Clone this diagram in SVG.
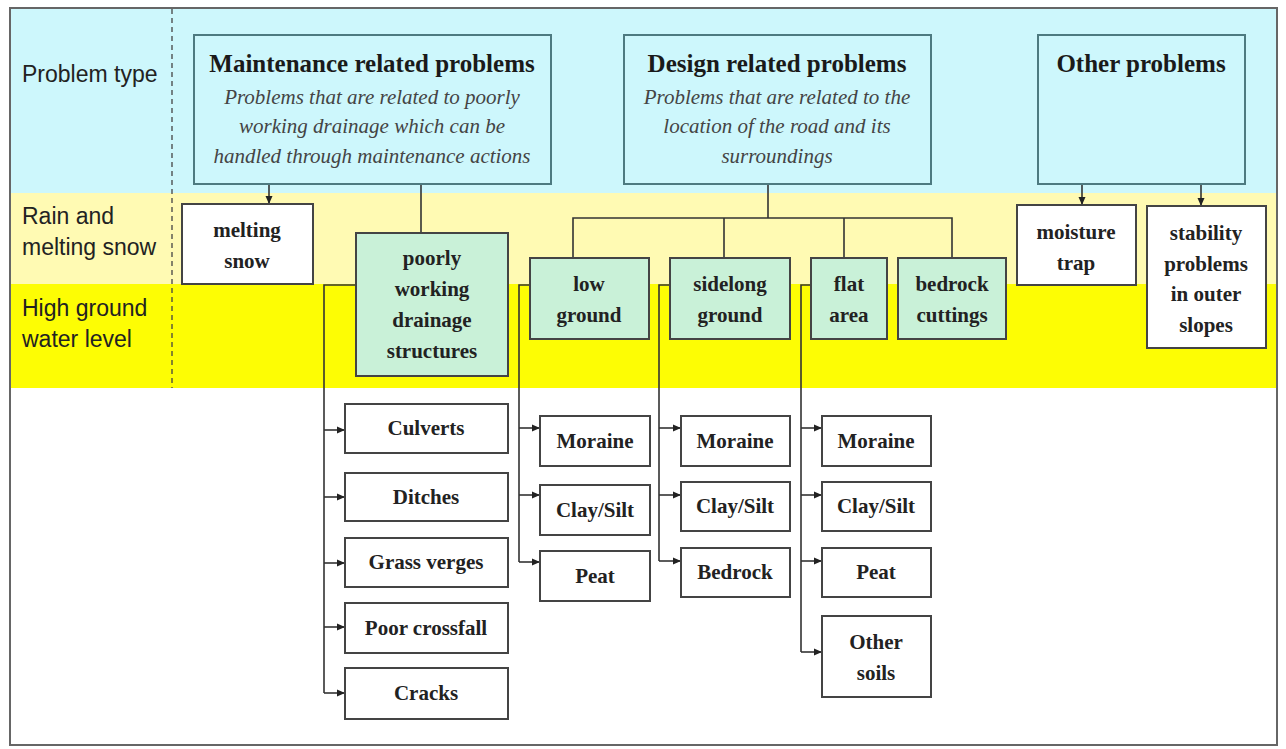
<svg xmlns="http://www.w3.org/2000/svg" width="1286" height="749" viewBox="0 0 1286 749">
<defs>
<marker id="ah" markerWidth="9" markerHeight="9" refX="8" refY="4.5" orient="auto" markerUnits="userSpaceOnUse">
<path d="M0,1 L8,4.5 L0,8 Z" fill="#222"/>
</marker>
<style>
.lbl{font-family:"Liberation Sans",Arial,sans-serif;font-size:23px;fill:#222}
.t{font-family:"Liberation Serif","Times New Roman",serif;font-weight:bold;font-size:21px;fill:#222;text-anchor:middle}
.h{font-family:"Liberation Serif","Times New Roman",serif;font-weight:bold;font-size:25px;fill:#1a1a1a;text-anchor:middle}
.i{font-family:"Liberation Serif","Times New Roman",serif;font-style:italic;font-size:21px;fill:#444;text-anchor:middle}
.pt{fill:#cdf7fc;stroke:#4d7a80;stroke-width:2}
.g{fill:#c9f1d8;stroke:#444;stroke-width:2}
.w{fill:#fff;stroke:#444;stroke-width:2}
.c{fill:none;stroke:#333;stroke-width:1.6}
</style>
</defs>
<rect x="0" y="0" width="1286" height="749" fill="#fff"/>
<g id="bands">
<rect x="10" y="9" width="1267" height="184" fill="#cdf7fc"/>
<rect x="10" y="193" width="1267" height="91" fill="#fffab3"/>
<rect x="10" y="284" width="1267" height="104" fill="#fdfd04"/>
<rect x="10" y="8" width="1267" height="737" fill="none" stroke="#666" stroke-width="2"/>
<line x1="172" y1="9" x2="172" y2="388" stroke="#444" stroke-width="1.3" stroke-dasharray="5,4"/>
</g>
<g id="row-labels">
<text class="lbl" x="22" y="82">Problem type</text>
<text class="lbl" x="22" y="224">Rain and</text>
<text class="lbl" x="22" y="255">melting snow</text>
<text class="lbl" x="22" y="316">High ground</text>
<text class="lbl" x="22" y="347">water level</text>
</g>
<g id="connectors">
<line class="c" x1="269" y1="184" x2="269" y2="204" marker-end="url(#ah)"/>
<line class="c" x1="421" y1="184" x2="421" y2="233"/>
<line class="c" x1="1082" y1="184" x2="1082" y2="205" marker-end="url(#ah)"/>
<line class="c" x1="1201" y1="184" x2="1201" y2="206" marker-end="url(#ah)"/>
<path class="c" d="M768,184 V218 M573,258 V218 H952 V258 M724,218 V258 M844,218 V258"/>
<path class="c" d="M356,285 H324 V693"/>
<line class="c" x1="324" y1="430" x2="345" y2="430" marker-end="url(#ah)"/>
<line class="c" x1="324" y1="497" x2="345" y2="497" marker-end="url(#ah)"/>
<line class="c" x1="324" y1="563" x2="345" y2="563" marker-end="url(#ah)"/>
<line class="c" x1="324" y1="627" x2="345" y2="627" marker-end="url(#ah)"/>
<line class="c" x1="324" y1="693" x2="345" y2="693" marker-end="url(#ah)"/>
<path class="c" d="M530,285 H519 V562"/>
<line class="c" x1="519" y1="428" x2="540" y2="428" marker-end="url(#ah)"/>
<line class="c" x1="519" y1="495" x2="540" y2="495" marker-end="url(#ah)"/>
<line class="c" x1="519" y1="562" x2="540" y2="562" marker-end="url(#ah)"/>
<path class="c" d="M670,285 H659 V561"/>
<line class="c" x1="659" y1="428" x2="681" y2="428" marker-end="url(#ah)"/>
<line class="c" x1="659" y1="495" x2="681" y2="495" marker-end="url(#ah)"/>
<line class="c" x1="659" y1="561" x2="681" y2="561" marker-end="url(#ah)"/>
<path class="c" d="M811,285 H801 V652"/>
<line class="c" x1="801" y1="428" x2="822" y2="428" marker-end="url(#ah)"/>
<line class="c" x1="801" y1="495" x2="822" y2="495" marker-end="url(#ah)"/>
<line class="c" x1="801" y1="561" x2="822" y2="561" marker-end="url(#ah)"/>
<line class="c" x1="801" y1="652" x2="822" y2="652" marker-end="url(#ah)"/>
</g>
<g id="maintenance">
<rect class="pt" x="194" y="35" width="357" height="149"/>
<text class="h" x="372" y="72">Maintenance related problems</text>
<text class="i" x="372" y="104">Problems that are related to poorly</text>
<text class="i" x="372" y="133">working drainage which can be</text>
<text class="i" x="372" y="163">handled through maintenance actions</text>
</g>
<g id="design">
<rect class="pt" x="624" y="35" width="307" height="149"/>
<text class="h" x="777" y="72">Design related problems</text>
<text class="i" x="777" y="104">Problems that are related to the</text>
<text class="i" x="777" y="133">location of the road and its</text>
<text class="i" x="777" y="163">surroundings</text>
</g>
<g id="other">
<rect class="pt" x="1038" y="35" width="207" height="149"/>
<text class="h" x="1141" y="72">Other problems</text>
</g>
<g id="melting-snow">
<rect class="w" x="182" y="204" width="131" height="80"/>
<text class="t" x="247" y="237">melting</text>
<text class="t" x="247" y="268">snow</text>
</g>
<g id="moisture-trap">
<rect class="w" x="1017" y="205" width="119" height="80"/>
<text class="t" x="1076" y="239">moisture</text>
<text class="t" x="1076" y="270">trap</text>
</g>
<g id="stability">
<rect class="w" x="1147" y="206" width="119" height="142"/>
<text class="t" x="1206" y="240">stability</text>
<text class="t" x="1206" y="271">problems</text>
<text class="t" x="1206" y="301">in outer</text>
<text class="t" x="1206" y="332">slopes</text>
</g>
<g id="poorly-working">
<rect class="g" x="356" y="233" width="152" height="143"/>
<text class="t" x="432" y="265">poorly</text>
<text class="t" x="432" y="296">working</text>
<text class="t" x="432" y="327">drainage</text>
<text class="t" x="432" y="358">structures</text>
</g>
<g id="low-ground">
<rect class="g" x="530" y="258" width="119" height="81"/>
<text class="t" x="589" y="291">low</text>
<text class="t" x="589" y="322">ground</text>
</g>
<g id="sidelong-ground">
<rect class="g" x="670" y="258" width="120" height="81"/>
<text class="t" x="730" y="291">sidelong</text>
<text class="t" x="730" y="322">ground</text>
</g>
<g id="flat-area">
<rect class="g" x="811" y="258" width="76" height="81"/>
<text class="t" x="849" y="291">flat</text>
<text class="t" x="849" y="322">area</text>
</g>
<g id="bedrock-cuttings">
<rect class="g" x="898" y="258" width="108" height="81"/>
<text class="t" x="952" y="291">bedrock</text>
<text class="t" x="952" y="322">cuttings</text>
</g>
<g id="culverts"><rect class="w" x="345" y="404" width="163" height="49"/><text class="t" x="426" y="435">Culverts</text></g>
<g id="ditches"><rect class="w" x="345" y="473" width="163" height="48"/><text class="t" x="426" y="504">Ditches</text></g>
<g id="grass-verges"><rect class="w" x="345" y="538" width="163" height="49"/><text class="t" x="426" y="569">Grass verges</text></g>
<g id="poor-crossfall"><rect class="w" x="345" y="603" width="163" height="50"/><text class="t" x="426" y="635">Poor crossfall</text></g>
<g id="cracks"><rect class="w" x="345" y="668" width="163" height="51"/><text class="t" x="426" y="700">Cracks</text></g>
<g id="low-moraine"><rect class="w" x="540" y="416" width="110" height="50"/><text class="t" x="595" y="448">Moraine</text></g>
<g id="low-clay"><rect class="w" x="540" y="485" width="110" height="50"/><text class="t" x="595" y="517">Clay/Silt</text></g>
<g id="low-peat"><rect class="w" x="540" y="551" width="110" height="50"/><text class="t" x="595" y="583">Peat</text></g>
<g id="side-moraine"><rect class="w" x="681" y="416" width="109" height="50"/><text class="t" x="735" y="448">Moraine</text></g>
<g id="side-clay"><rect class="w" x="681" y="482" width="109" height="49"/><text class="t" x="735" y="513">Clay/Silt</text></g>
<g id="side-bedrock"><rect class="w" x="681" y="548" width="109" height="49"/><text class="t" x="735" y="579">Bedrock</text></g>
<g id="flat-moraine"><rect class="w" x="822" y="416" width="109" height="50"/><text class="t" x="876" y="448">Moraine</text></g>
<g id="flat-clay"><rect class="w" x="822" y="482" width="109" height="49"/><text class="t" x="876" y="513">Clay/Silt</text></g>
<g id="flat-peat"><rect class="w" x="822" y="548" width="109" height="49"/><text class="t" x="876" y="579">Peat</text></g>
<g id="flat-other"><rect class="w" x="822" y="616" width="109" height="81"/><text class="t" x="876" y="649">Other</text><text class="t" x="876" y="680">soils</text></g>
</svg>
